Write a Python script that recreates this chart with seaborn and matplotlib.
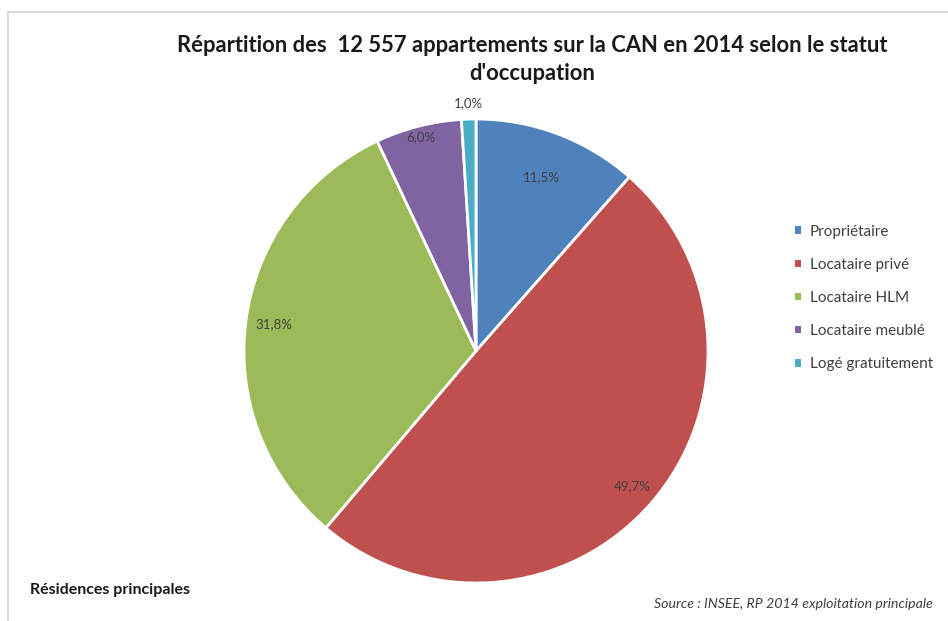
import numpy as np
import matplotlib
matplotlib.use("Agg")
import matplotlib.pyplot as plt
from matplotlib.patches import Rectangle, Patch
import seaborn as sns

# Statut d'occupation des résidences principales (appartements, CAN 2014)
categories = ["Propriétaire", "Locataire privé", "Locataire HLM",
              "Locataire meublé", "Logé gratuitement"]
shares = [11.5, 49.7, 31.8, 6.0, 1.0]
label_texts = ["11,5%", "49,7%", "31,8%", "6,0%", "1,0%"]
colors = ["#4F81BD", "#C0504D", "#9BBB59", "#8064A2", "#4BACC6"]

# radial placement of each percentage label (fraction of the radius)
label_radius = [0.80, 0.89, 0.88, 0.95, 1.07]

sns.set_theme(style="white")
plt.rcParams["font.family"] = ["Lato", "DejaVu Sans"]

fig = plt.figure(figsize=(9.48, 6.21), dpi=100)
fig.patch.set_facecolor("white")

# light frame around the chart area
fig.add_artist(Rectangle((8 / 948, -0.05), 1.1, 1 - 12 / 621 + 0.05,
                         transform=fig.transFigure, fill=False,
                         edgecolor="#D9D9D9", linewidth=1.5))

ax = fig.add_axes([244 / 948, 38 / 621, 464 / 948, 464 / 621])
palette = sns.color_palette(colors)
wedges, _ = ax.pie(shares, colors=palette, startangle=90, counterclock=False,
                   radius=1.0,
                   wedgeprops=dict(edgecolor="white", linewidth=2))
ax.set_xlim(-1, 1)
ax.set_ylim(-1, 1)
ax.set_aspect("equal")
ax.axis("off")

total = sum(shares)
cum = np.cumsum([0] + shares[:-1])
for start, val, txt, rf in zip(cum, shares, label_texts, label_radius):
    mid = 90 - (start + val / 2) / total * 360
    a = np.deg2rad(mid)
    ax.text(rf * np.cos(a), rf * np.sin(a), txt, ha="center", va="center",
            fontsize=9.5, color="#404040", clip_on=False)

fig.text(0.561, 1 - 46 / 621,
         "Répartition des  12 557 appartements sur la CAN en 2014 selon le statut",
         ha="center", va="center", fontsize=15.8, fontweight="bold", color="#1a1a1a")
fig.text(0.561, 1 - 73 / 621, "d'occupation",
         ha="center", va="center", fontsize=15.8, fontweight="bold", color="#1a1a1a")

# legend
handles = [Patch(facecolor=c, edgecolor="none") for c in palette]
leg = fig.legend(handles, categories, loc="upper left",
                 bbox_to_anchor=(781 / 948, 1 - 211 / 621), frameon=False,
                 fontsize=11, handlelength=0.4, handleheight=0.4,
                 handletextpad=0.6, labelspacing=1.25)
for t in leg.get_texts():
    t.set_color("#404040")

fig.text(30 / 948, 1 - 590 / 621, "Résidences principales", ha="left",
         va="center", fontsize=11.5, fontweight="bold", color="#1a1a1a")
fig.text(933 / 948, 1 - 604 / 621, "Source : INSEE, RP 2014 exploitation principale",
         ha="right", va="center", fontsize=10.2, style="italic", color="#404040")

fig.savefig("out.png", dpi=100, facecolor="white")
